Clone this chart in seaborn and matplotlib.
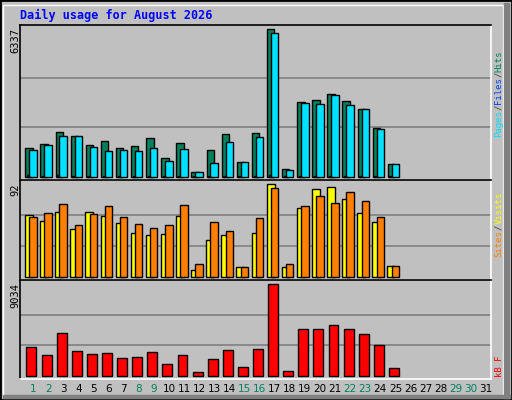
import numpy as np
import matplotlib
matplotlib.use("Agg")
import matplotlib.pyplot as plt
import matplotlib.patches as mpatches
import seaborn as sns

# daily values
days = list(range(1, 32))
hits = [1219, 1391, 1907, 1735, 1348, 1520, 1219, 1305, 1649, 789, 1434, 186, 1133,
        1821, 617, 1864, 6337, 315, 3198, 3298, 3542, 3241, 2897, 2079, 531]
files = [1133, 1348, 1735, 1735, 1262, 1090, 1133, 1090, 1219, 660, 1176, 186, 574,
         1477, 617, 1692, 6166, 272, 3155, 3112, 3499, 3069, 2897, 2036, 531]
pages = [60, 40, 60, 30, 40, 40, 30, 30, 30, 30, 40, 20, 30,
         40, 20, 40, 60, 20, 40, 40, 50, 40, 50, 40, 20]
visits = [61, 55, 64, 47, 64, 60, 53, 44, 42, 43, 60, 7, 37,
          42, 10, 44, 92, 10, 68, 87, 89, 77, 63, 54, 11]
sites = [59, 63, 72, 51, 62, 70, 59, 52, 48, 51, 71, 13, 54,
         46, 10, 58, 88, 13, 70, 80, 73, 84, 75, 59, 11]
kbytes = [2802, 2011, 4187, 2407, 2110, 2209, 1714, 1813, 2308, 1121, 2011, 330, 1616,
          2506, 824, 2605, 9034, 429, 4583, 4583, 4979, 4583, 4088, 3000, 725]
weekend = [1, 2, 8, 9, 15, 16, 22, 23, 29, 30]

W, H = 512, 400
BG = "#C0C0C0"
fig = plt.figure(figsize=(W / 100, H / 100), dpi=100, facecolor=BG)
mono = "DejaVu Sans Mono"

# bevelled frame
fig.patches.append(mpatches.Rectangle((0, 0), 1, 1, transform=fig.transFigure,
                                      fill=False, edgecolor="black", lw=2))
fig.patches.append(mpatches.Rectangle((3 / W, 3 / H), (W - 12) / W, (H - 8) / H,
                                      transform=fig.transFigure, fill=False,
                                      edgecolor="white", lw=1))
fig.patches.append(mpatches.Rectangle((3 / W, 2 / H), (W - 5) / W, 3 / H,
                                      transform=fig.transFigure, color="#808080"))
fig.patches.append(mpatches.Rectangle(((W - 8) / W, 2 / H), 5 / W, (H - 5) / H,
                                      transform=fig.transFigure, color="#808080"))


def axes_px(x0, y0, x1, y1):
    return fig.add_axes([x0 / W, 1 - y1 / H, (x1 - x0) / W, (y1 - y0) / H])


def style(ax, ymax, lo, hi):
    ax.set_facecolor(BG)
    ax.set_xlim(0.14, 31.33)
    ax.set_ylim(lo, hi)
    for g in (ymax / 3, ymax * 2 / 3):
        ax.axhline(g, color="#808080", lw=1.2, zorder=0)
    ax.set_xticks([])
    ax.set_yticks([])
    ax.set_xlabel("")
    ax.set_ylabel("")
    ax.spines["left"].set_color("black")
    ax.spines["top"].set_color("black")
    ax.spines["right"].set_color("white")
    ax.spines["bottom"].set_color("white")
    for s in ax.spines.values():
        s.set_linewidth(1.2)


def bars(ax, vals, off, width, color):
    x = np.array(days[:len(vals)]) + off
    sns.barplot(x=x, y=vals, native_scale=True, width=width, color=color,
                edgecolor="black", linewidth=1, saturation=1, ax=ax, zorder=2)


def side_label(parts, x, y_start, up=True, size=6.5):
    # draw rotated coloured pieces one after another
    step = size * 100 / 72 * 0.6
    y = y_start
    for txt, col in parts:
        if up:
            fig.text(x / W, 1 - y / H, txt, color=col, rotation=90, ha="center",
                     va="bottom", fontsize=size, family=mono)
            y -= step * len(txt)
        else:
            fig.text(x / W, 1 - y / H, txt, color=col, rotation=90, ha="center",
                     va="top", fontsize=size, family=mono)
            y += step * len(txt)


# top panel: hits / files / pages
ax1 = axes_px(20, 25, 491, 180)
bars(ax1, hits, -0.26, 0.49, "#00805C")
bars(ax1, files, 0.0, 0.49, "#00E0FF")
bars(ax1, pages, -0.33, 0.13, "#0040FF")
style(ax1, 6337, -142, 6509)

# middle panel: visits / sites
ax2 = axes_px(20, 180, 491, 280)
bars(ax2, visits, -0.26, 0.53, "#FFFF00")
bars(ax2, sites, 0.0, 0.49, "#FF8000")
style(ax2, 92, -3.3, 96.3)

# bottom panel: kbytes
ax3 = axes_px(20, 280, 491, 379)
bars(ax3, kbytes, -0.1, 0.66, "#FF0000")
style(ax3, 9034, -326, 9459)

# max value labels
for val, ytop in (("6337", 28), ("92", 183), ("9034", 283)):
    fig.text(15 / W, 1 - ytop / H, val, rotation=90, ha="center", va="top",
             fontsize=7.5, family=mono)

side_label([("Pages", "#00E0FF"), ("/", "#404040"), ("Files", "#0040FF"),
            ("/", "#404040"), ("Hits", "#00805C")], 499, 137)
side_label([("Sites", "#FF8000"), ("/", "#404040"), ("Visits", "#FFFF00")], 499, 257)
side_label([("kB F", "#FF0000")], 499, 377)

# day labels
for d in days:
    x = 20 + (d - 0.14) / (31.33 - 0.14) * 471
    fig.text(x / W, 1 - 389 / H, str(d), ha="center", va="center", fontsize=7.5,
             color="#00805C" if d in weekend else "black")

fig.text(20 / W, 1 - 15 / H, "Daily usage for August 2026", color="#0000FF",
         fontsize=8.5, fontweight="bold", family=mono, va="center")

fig.savefig("out.png", dpi=100, facecolor=BG)
